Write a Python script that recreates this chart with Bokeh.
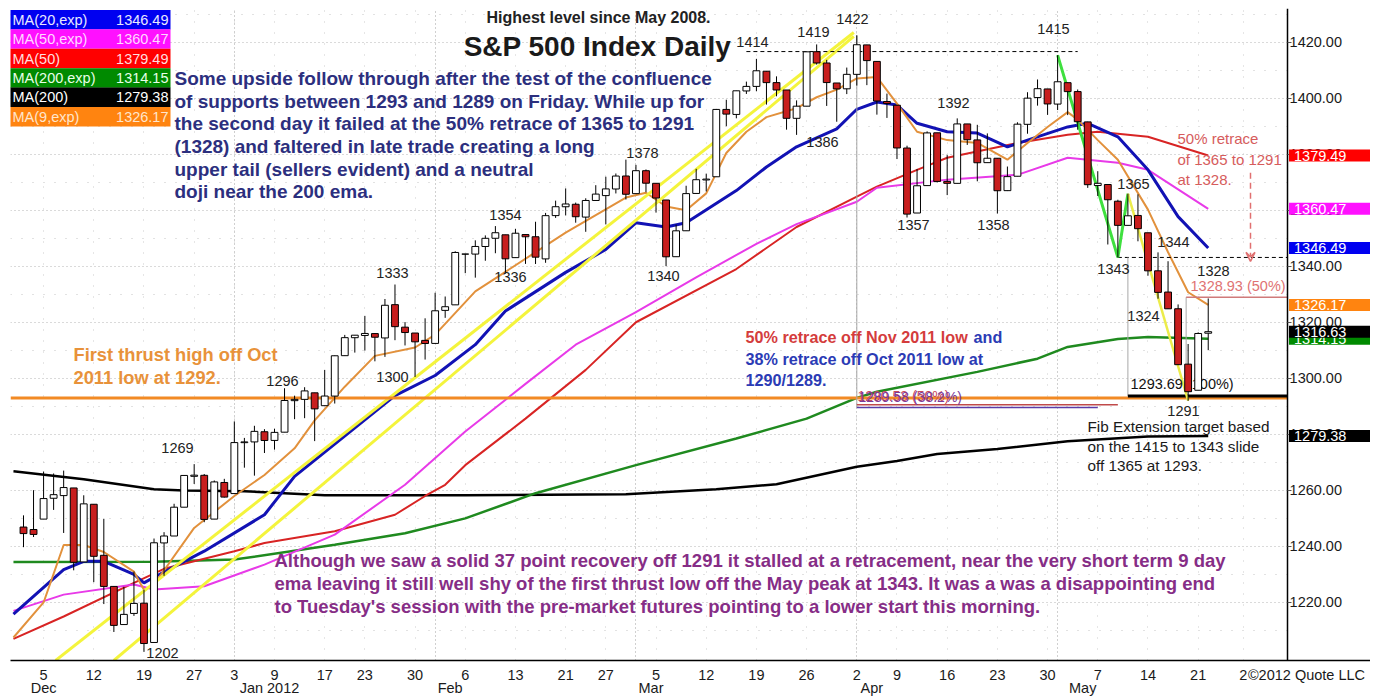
from bokeh.plotting import figure
from bokeh.models import (Range1d, LinearAxis, FixedTicker, Label, Grid,
                          PrintfTickFormatter, Arrow, VeeHead)
from bokeh.embed import file_html
from bokeh.resources import INLINE
from bokeh.core.properties import value

# ---------------- data: S&P 500 daily bars ----------------
dates = [
    "2011-12-01", "2011-12-02", "2011-12-05", "2011-12-06", "2011-12-07", "2011-12-08", "2011-12-09",
    "2011-12-12", "2011-12-13", "2011-12-14", "2011-12-15", "2011-12-16",
    "2011-12-19", "2011-12-20", "2011-12-21", "2011-12-22", "2011-12-23",
    "2011-12-27", "2011-12-28", "2011-12-29", "2011-12-30",
    "2012-01-03", "2012-01-04", "2012-01-05", "2012-01-06",
    "2012-01-09", "2012-01-10", "2012-01-11", "2012-01-12", "2012-01-13",
    "2012-01-17", "2012-01-18", "2012-01-19", "2012-01-20",
    "2012-01-23", "2012-01-24", "2012-01-25", "2012-01-26", "2012-01-27",
    "2012-01-30", "2012-01-31", "2012-02-01", "2012-02-02", "2012-02-03",
    "2012-02-06", "2012-02-07", "2012-02-08", "2012-02-09", "2012-02-10",
    "2012-02-13", "2012-02-14", "2012-02-15", "2012-02-16", "2012-02-17",
    "2012-02-21", "2012-02-22", "2012-02-23", "2012-02-24",
    "2012-02-27", "2012-02-28", "2012-02-29", "2012-03-01", "2012-03-02",
    "2012-03-05", "2012-03-06", "2012-03-07", "2012-03-08", "2012-03-09",
    "2012-03-12", "2012-03-13", "2012-03-14", "2012-03-15", "2012-03-16",
    "2012-03-19", "2012-03-20", "2012-03-21", "2012-03-22", "2012-03-23",
    "2012-03-26", "2012-03-27", "2012-03-28", "2012-03-29", "2012-03-30",
    "2012-04-02", "2012-04-03", "2012-04-04", "2012-04-05",
    "2012-04-09", "2012-04-10", "2012-04-11", "2012-04-12", "2012-04-13",
    "2012-04-16", "2012-04-17", "2012-04-18", "2012-04-19", "2012-04-20",
    "2012-04-23", "2012-04-24", "2012-04-25", "2012-04-26", "2012-04-27",
    "2012-04-30", "2012-05-01", "2012-05-02", "2012-05-03", "2012-05-04",
    "2012-05-07", "2012-05-08", "2012-05-09", "2012-05-10", "2012-05-11",
    "2012-05-14", "2012-05-15", "2012-05-16", "2012-05-17", "2012-05-18",
    "2012-05-21", "2012-05-22",
]
opens = [
    1246.91, 1246.03, 1249.75, 1257.19, 1258.14, 1260.87, 1234.48,
    1255.05, 1236.83, 1225.73, 1212.12, 1216.09,
    1219.74, 1205.72, 1241.25, 1243.72, 1254.00,
    1265.02, 1265.38, 1249.75, 1262.82,
    1258.86, 1277.03, 1277.30, 1280.93,
    1277.83, 1280.77, 1292.02, 1292.48, 1294.82,
    1290.22, 1293.65, 1308.07, 1314.49,
    1315.29, 1315.96, 1314.40, 1326.28, 1318.25,
    1316.16, 1313.53, 1312.45, 1324.24, 1326.21,
    1344.32, 1344.33, 1347.04, 1349.97, 1351.21,
    1343.06, 1351.30, 1350.52, 1342.61, 1358.06,
    1361.22, 1362.11, 1357.53, 1363.46,
    1365.20, 1367.56, 1372.20, 1365.90, 1374.09,
    1369.59, 1363.63, 1343.39, 1352.65, 1365.97,
    1370.78, 1371.92, 1395.95, 1394.17, 1402.55,
    1404.17, 1409.59, 1405.52, 1402.89, 1392.78,
    1397.11, 1416.55, 1412.52, 1405.39, 1403.31,
    1408.47, 1418.98, 1413.09, 1398.79,
    1397.45, 1382.18, 1358.98, 1368.77, 1387.61,
    1370.27, 1369.57, 1390.78, 1385.08, 1376.96,
    1378.53, 1366.97, 1372.11, 1390.64, 1400.19,
    1403.26, 1397.86, 1405.50, 1402.32, 1391.51,
    1368.79, 1369.16, 1363.20, 1354.58, 1358.11,
    1351.93, 1338.36, 1330.78, 1324.82, 1305.05,
    1295.73, 1316.09,
]
highs = [
    1251.09, 1260.08, 1266.73, 1266.03, 1267.06, 1260.87, 1258.25,
    1255.05, 1249.86, 1225.73, 1225.60, 1231.04,
    1224.57, 1242.82, 1245.09, 1255.22, 1265.42,
    1269.37, 1265.85, 1263.54, 1264.12,
    1284.62, 1278.73, 1283.05, 1281.84,
    1281.99, 1296.46, 1293.80, 1296.82, 1294.82,
    1303.00, 1308.11, 1315.49, 1315.38,
    1322.28, 1315.96, 1328.30, 1333.47, 1320.06,
    1316.16, 1321.41, 1330.52, 1329.19, 1345.34,
    1344.36, 1349.24, 1351.00, 1354.32, 1351.21,
    1353.35, 1351.30, 1355.87, 1359.02, 1363.40,
    1367.76, 1362.70, 1364.24, 1368.92,
    1371.94, 1373.09, 1378.04, 1376.17, 1374.53,
    1369.59, 1363.63, 1354.85, 1368.72, 1374.76,
    1373.04, 1396.13, 1399.42, 1402.63, 1405.88,
    1414.00, 1409.59, 1407.75, 1402.89, 1399.18,
    1416.58, 1419.15, 1413.65, 1405.39, 1410.89,
    1422.38, 1419.00, 1413.09, 1401.60,
    1397.45, 1383.01, 1374.71, 1388.13, 1387.61,
    1379.66, 1392.76, 1390.78, 1390.46, 1387.40,
    1378.53, 1375.57, 1391.37, 1402.09, 1406.64,
    1403.26, 1415.32, 1405.50, 1403.07, 1391.51,
    1373.91, 1369.16, 1363.73, 1365.88, 1365.66,
    1351.93, 1344.94, 1341.78, 1326.36, 1312.24,
    1316.39, 1328.49,
]
lows = [
    1239.73, 1243.35, 1249.75, 1253.03, 1244.80, 1231.47, 1234.48,
    1227.25, 1219.43, 1209.47, 1212.12, 1215.20,
    1202.37, 1205.72, 1229.51, 1243.72, 1254.00,
    1262.30, 1248.64, 1249.75, 1257.46,
    1258.86, 1268.10, 1265.26, 1273.34,
    1274.55, 1280.77, 1285.41, 1285.77, 1277.58,
    1290.22, 1290.99, 1308.07, 1309.17,
    1309.89, 1306.06, 1307.65, 1313.60, 1311.72,
    1300.49, 1306.69, 1312.45, 1321.57, 1326.21,
    1337.52, 1335.92, 1341.95, 1344.63, 1337.35,
    1343.06, 1340.83, 1340.80, 1341.22, 1357.24,
    1358.11, 1355.53, 1352.28, 1363.46,
    1354.92, 1365.97, 1363.81, 1365.90, 1366.42,
    1359.13, 1340.03, 1343.39, 1352.65, 1365.97,
    1366.69, 1371.92, 1389.97, 1392.78, 1401.47,
    1402.43, 1397.68, 1400.64, 1388.73, 1386.87,
    1397.11, 1411.95, 1397.20, 1391.56, 1401.42,
    1404.46, 1404.62, 1394.09, 1392.92,
    1378.24, 1357.38, 1358.98, 1368.77, 1369.85,
    1365.38, 1369.57, 1383.29, 1370.30, 1376.96,
    1358.79, 1366.82, 1372.11, 1387.28, 1397.31,
    1394.00, 1395.73, 1393.92, 1388.71, 1367.96,
    1365.04, 1347.75, 1343.13, 1354.58, 1348.89,
    1336.61, 1328.41, 1324.79, 1304.86, 1291.98,
    1295.73, 1310.04,
]
closes = [
    1244.58, 1244.28, 1257.08, 1258.47, 1261.01, 1234.35, 1255.19,
    1236.47, 1225.73, 1211.82, 1215.75, 1219.66,
    1205.35, 1241.30, 1243.72, 1254.00, 1265.33,
    1265.43, 1249.64, 1263.02, 1257.60,
    1277.06, 1277.30, 1281.06, 1277.81,
    1280.70, 1292.08, 1292.48, 1295.50, 1289.09,
    1293.67, 1308.04, 1314.50, 1315.38,
    1316.00, 1314.65, 1326.06, 1318.43, 1316.33,
    1313.01, 1312.41, 1324.09, 1325.54, 1344.90,
    1344.33, 1347.05, 1349.96, 1351.95, 1342.64,
    1351.77, 1350.50, 1343.23, 1358.04, 1361.23,
    1362.21, 1357.66, 1363.46, 1365.74,
    1367.59, 1372.18, 1365.68, 1374.09, 1369.63,
    1364.33, 1343.36, 1352.63, 1365.91, 1370.87,
    1371.09, 1395.95, 1394.28, 1402.60, 1404.17,
    1409.75, 1405.52, 1402.89, 1392.78, 1397.11,
    1416.51, 1412.52, 1405.54, 1403.28, 1408.47,
    1419.04, 1413.38, 1398.96, 1398.08,
    1382.20, 1358.59, 1368.71, 1387.57, 1370.26,
    1369.57, 1390.78, 1385.14, 1376.92, 1378.53,
    1366.94, 1371.97, 1390.69, 1399.98, 1403.36,
    1397.91, 1405.82, 1402.31, 1391.57, 1369.10,
    1369.58, 1363.72, 1354.58, 1357.99, 1353.39,
    1338.35, 1330.66, 1324.80, 1304.86, 1295.22,
    1315.99, 1316.63,
]

# ---------------- moving averages (bar index, level) ----------------
ma200_idx = [-1, 6, 13, 16, 22, 30, 44, 60, 69, 75, 83, 87, 91, 97, 104, 112, 118]
ma200_val = [1266.8, 1264.0, 1260.4, 1260.0, 1259.7, 1258.3, 1258.3, 1258.6, 1260.4, 1262.2,
             1268.4, 1270.5, 1273.0, 1274.8, 1277.5, 1279.2, 1279.38]
ema200_idx = [-1, 13, 21, 31, 38, 44, 51, 61, 71, 78, 83, 85, 95, 101, 104, 109, 112, 118]
ema200_val = [1234.4, 1234.5, 1235.3, 1240.6, 1244.7, 1250.0, 1259.0, 1269.0, 1278.5, 1285.6,
              1293.0, 1295.2, 1302.3, 1307.0, 1311.2, 1314.0, 1314.7, 1314.15]
ma50_idx = [-1, 4, 11, 14, 21, 24, 31, 37, 40, 42, 44, 50, 56, 61, 71, 77, 83, 85, 89, 92,
            99, 104, 107, 112, 118]
ma50_val = [1207.0, 1215.0, 1227.0, 1232.0, 1238.3, 1241.2, 1245.4, 1251.3, 1258.0, 1262.0,
            1269.0, 1285.6, 1303.0, 1320.0, 1339.0, 1354.0, 1364.8, 1368.4, 1374.4, 1378.7,
            1384.0, 1386.9, 1388.0, 1386.2, 1379.49]
ema50_idx = [-1, 4, 11, 13, 18, 24, 31, 38, 44, 50, 55, 61, 67, 73, 77, 83, 85, 92, 99, 104,
             109, 112, 118]
ema50_val = [1217.0, 1222.8, 1226.4, 1224.6, 1225.8, 1233.5, 1244.2, 1262.0, 1281.0, 1298.0,
             1312.0, 1323.6, 1336.0, 1348.0, 1355.0, 1363.0, 1368.0, 1370.9, 1372.6, 1378.7,
             1376.9, 1374.4, 1360.47]
ema20_idx = [-1, 4, 6, 8, 11, 12, 13, 18, 24, 27, 37, 41, 45, 48, 54, 58, 61, 64, 66, 71,
             74, 77, 81, 83, 85, 87, 89, 92, 95, 98, 100, 104, 106, 109, 112, 115, 118]
ema20_val = [1215.8, 1231.7, 1234.7, 1234.7, 1230.0, 1227.0, 1229.0, 1238.3, 1251.3, 1265.0,
             1293.8, 1301.0, 1312.0, 1324.0, 1337.8, 1346.0, 1355.5, 1354.0, 1355.5, 1367.0,
             1375.4, 1382.6, 1389.0, 1396.0, 1398.6, 1397.5, 1391.0, 1388.0, 1387.5, 1382.6,
             1385.0, 1389.7, 1391.0, 1386.2, 1374.4, 1357.7, 1346.49]
ema9_idx = [-1, 2, 4, 6, 8, 11, 12, 13, 17, 21, 24, 27, 29, 32, 35, 39, 41, 45, 48, 54, 60,
            62, 64, 66, 68, 70, 72, 74, 77, 79, 81, 83, 85, 87, 89, 92, 95, 98, 100, 102, 104,
            105, 107, 109, 112, 114, 116, 118]
ema9_val = [1207.5, 1220.0, 1240.5, 1240.5, 1238.0, 1231.0, 1224.5, 1226.4, 1246.6, 1258.0,
            1265.5, 1275.0, 1285.0, 1297.0, 1308.0, 1311.0, 1315.6, 1331.0, 1338.0, 1352.0,
            1364.5, 1366.2, 1361.3, 1360.0, 1366.0, 1380.4, 1388.0, 1393.2, 1396.4, 1400.3,
            1403.0, 1407.0, 1407.5, 1398.0, 1388.0, 1385.0, 1384.0, 1378.0, 1384.0, 1389.7,
            1395.0, 1392.3, 1385.0, 1378.0, 1360.2, 1345.0, 1330.7, 1326.17]

ma_names = ["MA(20,exp)", "MA(50,exp)", "MA(50)", "MA(200,exp)", "MA(200)", "MA(9,exp)"]
ma_last = [1346.49, 1360.47, 1379.49, 1314.15, 1279.38, 1326.17]
ma_colors = ["#0000f0", "#ff10ff", "#ff0000", "#008a00", "#000000", "#ff8410"]
ma_text_colors = ["#e8e8ff", "#ffd8ff", "#ffdede", "#e8ffe8", "#ffffff", "#ffe6cc"]

# ---------------- axis labels ----------------
day_tick_dates = ["2011-12-05", "2011-12-12", "2011-12-19", "2011-12-27", "2012-01-03",
                  "2012-01-09", "2012-01-17", "2012-01-23", "2012-01-30", "2012-02-06",
                  "2012-02-13", "2012-02-21", "2012-02-27", "2012-03-05", "2012-03-12",
                  "2012-03-19", "2012-03-26", "2012-04-02", "2012-04-09", "2012-04-16",
                  "2012-04-23", "2012-04-30", "2012-05-07", "2012-05-14", "2012-05-21"]
day_tick_labels = ["5", "12", "19", "27", "3", "9", "17", "23", "30", "6", "13", "21", "27",
                   "5", "12", "19", "26", "2", "9", "16", "23", "30", "7", "14", "21"]
future_tick_pos = 121.5
future_tick_label = "2"
credit_text = "\u00a92012 Quote LLC"
month_labels = ["Dec", "Jan 2012", "Feb", "Mar", "Apr", "May"]
month_label_pos = [2, 24.5, 42.5, 62.5, 84.5, 105.5]
month_start_dates = ["2012-01-03", "2012-02-01", "2012-03-01", "2012-04-02", "2012-05-01"]
price_ticks = [1220, 1240, 1260, 1280, 1300, 1320, 1340, 1360, 1380, 1400, 1420]
price_minor = [1210, 1230, 1250, 1270, 1290, 1310, 1330, 1350, 1370, 1390, 1410, 1430]


# ---------------- helpers: reference picture pixel -> data ----------------
def px_x(px):
    return (px - 23.0) / 10.04


def px_y(py):
    return 1420.0 - (py - 41.7) / 2.815


FONT = "Liberation Sans"
W, H = 1370, 698
X0, X_END = px_x(10), px_x(W)
X_AX = px_x(1286.5)
Y0, Y1 = px_y(663), px_y(8)
idx = list(range(len(dates)))
pos = {d: i for i, d in enumerate(dates)}

p = figure(width=W, height=H, x_range=Range1d(X0, X_END), y_range=Range1d(Y0, Y1),
           output_backend="svg", toolbar_location=None, y_axis_location="left",
           min_border_left=10, min_border_right=0, min_border_top=8, min_border_bottom=0,
           background_fill_color="white", border_fill_color="white")
p.outline_line_color = None

# price axis, drawn at a fixed place with its labels to the right of the line
yax = p.yaxis[0]
yax.fixed_location = X_AX
yax.ticker = FixedTicker(ticks=price_ticks, minor_ticks=price_minor)
yax.formatter = PrintfTickFormatter(format="%.2f")
yax.axis_line_color = "black"
yax.axis_line_width = 1.5
yax.major_tick_out = 0
yax.major_tick_in = 4
yax.major_tick_line_color = "#555555"
yax.minor_tick_line_color = None
yax.major_label_standoff = -59
yax.major_label_text_font = FONT
yax.major_label_text_font_size = "14.5px"
yax.major_label_text_color = "#1a1a1a"

# bottom day axis
day_ticks = [pos[d] for d in day_tick_dates] + [future_tick_pos, px_x(1306)]
day_labels = day_tick_labels + [future_tick_label, credit_text]
xax = p.xaxis[0]
xax.ticker = FixedTicker(ticks=day_ticks)
xax.major_label_overrides = {t: l for t, l in zip(day_ticks, day_labels)}
xax.axis_line_color = "black"
xax.axis_line_width = 1.5
xax.major_tick_line_color = None
xax.minor_tick_line_color = None
xax.major_label_standoff = 0
xax.major_label_text_font = FONT
xax.major_label_text_font_size = "14.5px"
xax.major_label_text_color = "#1a1a1a"

max_ = LinearAxis(ticker=FixedTicker(ticks=month_label_pos),
                  major_label_overrides={t: l for t, l in zip(month_label_pos, month_labels)},
                  axis_line_color=None, major_tick_line_color=None, minor_tick_line_color=None,
                  major_label_standoff=-12, major_label_text_font=FONT,
                  major_label_text_font_size="14.5px", major_label_text_color="#1a1a1a")
p.add_layout(max_, "below")

# grids
p.ygrid.ticker = yax.ticker
p.ygrid.grid_line_color = "#b4b4b4"
p.ygrid.grid_line_dash = "1 3"
p.ygrid.minor_grid_line_color = "#c4c4c4"
p.ygrid.minor_grid_line_dash = "1 10"
p.xgrid.ticker = FixedTicker(ticks=[pos[d] for d in month_start_dates])
p.xgrid.grid_line_color = "#a0a0a0"
p.xgrid.grid_line_dash = "1 3"
p.add_layout(Grid(dimension=0, ticker=FixedTicker(ticks=day_ticks[:-1]),
                  grid_line_color="#cccccc", grid_line_dash="1 10"))

# blank price-scale strip right of the axis line
p.quad(left=[X_AX], right=[X_END], bottom=[Y0], top=[Y1], fill_color="white", line_color=None)

# ---------------- moving averages ----------------
p.line(ma200_idx, ma200_val, line_color="#000000", line_width=2.5)
p.line(ema200_idx, ema200_val, line_color="#1f8a1f", line_width=2.5)
p.line(ma50_idx, ma50_val, line_color="#d82424", line_width=2)
p.line(ema50_idx, ema50_val, line_color="#e83ae8", line_width=2)
p.line(ema20_idx, ema20_val, line_color="#1212b4", line_width=3)
p.line(ema9_idx, ema9_val, line_color="#e2913c", line_width=2)

# ---------------- drawn study lines ----------------
p.line([3.2, 82.7], [1199.3, 1423.4], line_color="#f4f43c", line_width=3)
p.line([9.0, 82.7], [1199.3, 1422.0], line_color="#f4f43c", line_width=3)
p.line([X0, X_AX], [1293.0, 1293.0], line_color="#f28a24", line_width=3)
p.line([83, 83], [highs[83], 1289.58], line_color="#a8a8a8", line_width=1)
p.line([83, 109], [1290.53, 1290.53], line_color="#c04a4a", line_width=1.5)
p.line([83, 107], [1289.58, 1289.58], line_color="#5a3ca8", line_width=1.5)
p.line([72, 105], [1416.6, 1416.6], line_color="black", line_width=1, line_dash="4 3")
p.line([109, X_AX], [lows[109], lows[109]], line_color="black", line_width=1, line_dash="4 3")
p.line([110, 110], [lows[109], 1293.69], line_color="#a8a8a8", line_width=1)
p.line([115.8, 115.8], [1328.93, 1293.69], line_color="#a8a8a8", line_width=1)
p.line([115.8, X_AX], [1328.93, 1328.93], line_color="#d07a7a", line_width=1.5)
p.line([110, X_AX], [1293.69, 1293.69], line_color="black", line_width=3)
p.line([103, 109, 110], [highs[103], lows[109], highs[110]], line_color="#3fe03f", line_width=3)
p.line([110, 116], [highs[110], lows[116]], line_color="#ecec4a", line_width=2.5)


def add_text(lines, px, pys, size, color, bold=False, align="left"):
    p.text(x=[px_x(px)] * len(lines), y=[px_y(v) for v in pys], text=lines,
           text_font=value(FONT), text_font_size=size,
           text_font_style="bold" if bold else "normal",
           text_color=color, text_align=align, text_baseline="middle")


# labels that sit under the bars
add_text(["1290.53 (50%)"], 857, [397], "14px", "#c84a5a")
add_text(["1289.58 (38.2%)"], 858, [398], "14px", "#7a3a9a")
add_text(["1293.69 (100%)"], 1130, [385], "14.5px", "#111111")
add_text(["1328.93 (50%)"], 1190, [287], "14.5px", "#e07272")

# ---------------- candles ----------------
up = [i for i in idx if closes[i] >= opens[i]]
dn = [i for i in idx if closes[i] < opens[i]]
p.segment(x0=idx, y0=highs, x1=idx, y1=lows, line_color="black", line_width=1)
p.vbar(x=up, width=0.68, top=[closes[i] for i in up], bottom=[opens[i] for i in up],
       fill_color="white", line_color="black", line_width=1)
p.vbar(x=dn, width=0.68, top=[opens[i] for i in dn], bottom=[closes[i] for i in dn],
       fill_color="#c81e1e", line_color="black", line_width=1)

# ---------------- price call-outs ----------------
callouts = [("1269", 177, 450), ("1202", 162, 655), ("1296", 282, 382), ("1333", 392, 274),
            ("1300", 392, 378), ("1354", 505, 215), ("1336", 510, 278), ("1378", 642, 153),
            ("1340", 663, 277), ("1414", 752, 42), ("1419", 813, 32), ("1422", 852, 19),
            ("1386", 822, 142), ("1392", 953, 103), ("1357", 913, 225), ("1358", 993, 225),
            ("1415", 1053, 29), ("1365", 1133, 184), ("1343", 1113, 270), ("1344", 1173, 243),
            ("1324", 1143, 317), ("1328", 1213, 272), ("1291", 1183, 412)]
p.text(x=[px_x(c[1]) for c in callouts], y=[px_y(c[2]) for c in callouts],
       text=[c[0] for c in callouts], text_font=value(FONT), text_font_size="14.5px",
       text_color="#222222", text_align="center", text_baseline="middle")

# ---------------- commentary ----------------
add_text(["Highest level since May 2008."], 598, [17], "16px", "#222222", True, "center")
add_text(["S&P 500 Index Daily"], 597, [46], "28px", "#1a1a1a", True, "center")
add_text(["Some upside follow through after the test of the confluence",
          "of supports between 1293 and 1289 on Friday. While up for",
          "the second day it failed at the 50% retrace of 1365 to 1291",
          "(1328) and faltered in late trade creating a long",
          "upper tail (sellers evident) and a neutral",
          "doji near the 200 ema."], 174, [78, 101, 124, 147, 170, 192],
         "19px", "#2c2f7e", True)
add_text(["First thrust high off Oct", "2011 low at 1292."], 73, [356, 379],
         "18.3px", "#e8923a", True)
add_text(["50% retrace off Nov 2011 low"], 745, [338], "16.2px", "#d43c3c", True)
add_text(["and"], 973, [338], "16.2px", "#2b3bb5", True)
add_text(["38% retrace off Oct 2011 low at", "1290/1289."], 745, [360, 381],
         "16.2px", "#2b3bb5", True)
add_text(["50% retrace", "of 1365 to 1291", "at 1328."], 1177, [139, 160, 180],
         "15px", "#d65c5c")
add_text(["Fib Extension target based", "on the 1415 to 1343 slide", "off 1365 at 1293."],
         1087, [428, 448, 467], "15.3px", "#1a1a1a")
add_text(["Although we saw a solid 37 point recovery off 1291 it stalled at a retracement, near the very short term 9 day",
          "ema leaving it still well shy of the first thrust low off the May peak at 1343.  It was a was a disappointing end",
          "to Tuesday's session with the pre-market futures pointing to a lower start this morning."],
         274, [563, 586, 609], "18.5px", "#862d86", True)

# ---------------- study legend (top-left) ----------------
row_py = [19.25 + 19.5 * k for k in range(len(ma_names))]
p.rect(x=[px_x(89.5)] * len(ma_names), y=[px_y(v) for v in row_py], width=161, height=19.5,
       width_units="screen", height_units="screen", fill_color=ma_colors, line_color=None)
p.text(x=[px_x(12)] * len(ma_names), y=[px_y(v) for v in row_py], text=ma_names,
       text_font=value(FONT), text_font_size="14.5px", text_color=ma_text_colors,
       text_align="left", text_baseline="middle")
p.text(x=[px_x(168)] * len(ma_names), y=[px_y(v) for v in row_py],
       text=["%.2f" % v for v in ma_last], text_font=value(FONT), text_font_size="14.5px",
       text_color=ma_text_colors, text_align="right", text_baseline="middle")

# ---------------- target arrow ----------------
p.add_layout(Arrow(end=VeeHead(size=9, line_color="#e07070", line_width=1.5, fill_alpha=0),
                   x_start=px_x(1250), y_start=px_y(173), x_end=px_x(1250), y_end=px_y(262),
                   line_color="#e07070", line_width=1.5, line_dash="6 4"))

# ---------------- last-value badges on the price scale ----------------
badges = [(ma_last[2], ma_colors[2]), (ma_last[1], ma_colors[1]), (ma_last[0], ma_colors[0]),
          (ma_last[5], ma_colors[5]), (ma_last[3], ma_colors[3]), (closes[-1], "#000000"),
          (ma_last[4], ma_colors[4])]
for val, col in badges:
    p.add_layout(Label(x=X_AX, y=val, x_offset=2, text="%.2f" % val, text_font=FONT,
                       text_font_size="14.5px", text_color="white", text_align="left",
                       text_baseline="middle", background_fill_color=col,
                       padding=dict(left=5, right=30, top=1, bottom=1)))

open("out.html", "w").write(file_html(p, INLINE))
